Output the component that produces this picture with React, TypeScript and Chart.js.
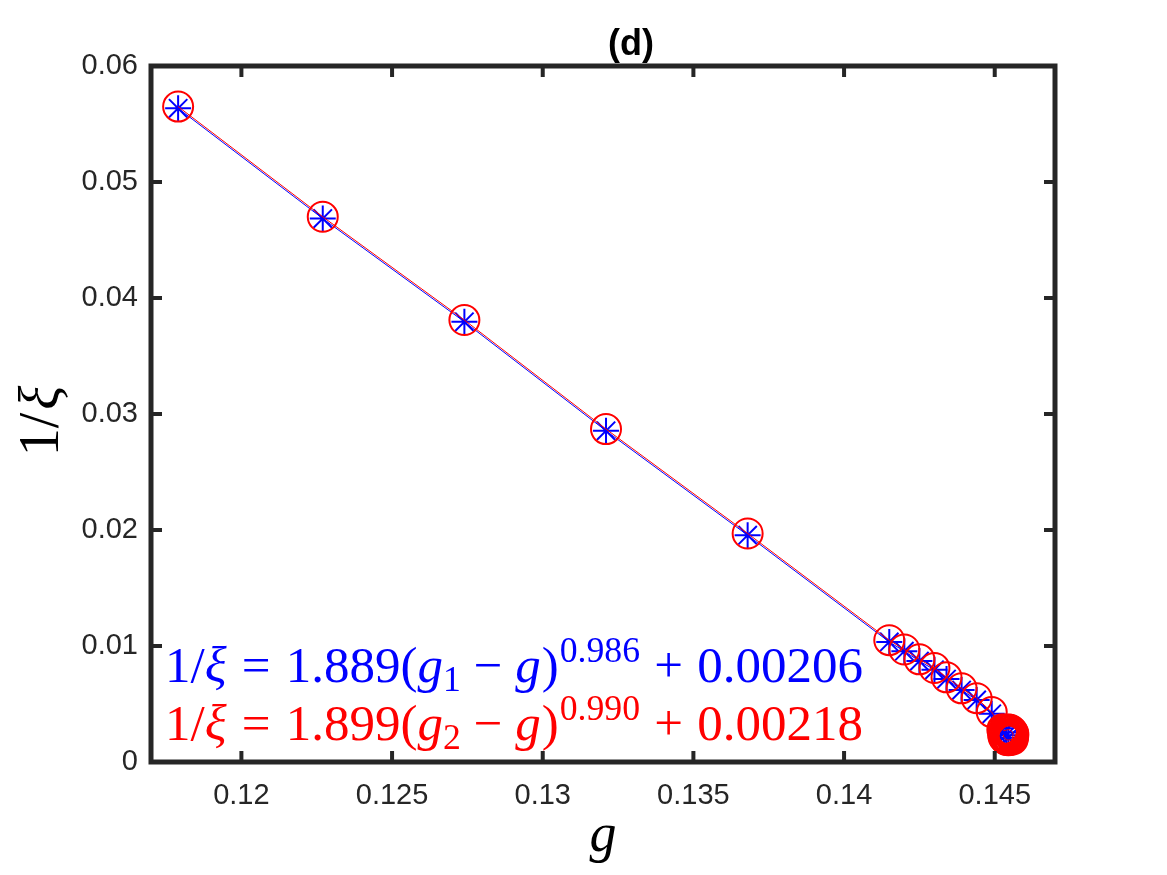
import React, { useEffect, useRef } from 'react';
import { Chart, registerables } from 'chart.js';

Chart.register(...registerables);

// ---- data ----
const gBlue = [
  0.1179, 0.1227, 0.1274, 0.1321, 0.1368, 0.1415, 0.1420, 0.1425, 0.1430,
  0.1434, 0.1439, 0.1444, 0.1449, 0.1452, 0.1453, 0.14538, 0.14545,
];
const invXiBlue = [
  0.05635, 0.04685, 0.03795, 0.02855, 0.01955, 0.01035, 0.00955, 0.0087,
  0.00795, 0.00715, 0.0062, 0.00535, 0.00415, 0.0029, 0.00255, 0.0023, 0.0021,
];
const gRed = [
  0.1179, 0.1227, 0.1274, 0.1321, 0.1368, 0.1415, 0.1420, 0.1425, 0.1430,
  0.1434, 0.1439, 0.1444, 0.1449,
  0.14526, 0.14531, 0.14539, 0.14545, 0.14551, 0.14556, 0.1456, 0.14561,
  0.1456, 0.14559, 0.14551, 0.14545, 0.14539, 0.14534, 0.1453, 0.14529,
];
const invXiRed = [
  0.0565, 0.047, 0.0381, 0.0287, 0.0197, 0.0105, 0.0097, 0.00885, 0.0081,
  0.0073, 0.00635, 0.0055, 0.0043,
  0.0028, 0.0027, 0.00276, 0.00279, 0.00276, 0.00266, 0.00251, 0.00234,
  0.00217, 0.00196, 0.00192, 0.00189, 0.00192, 0.00202, 0.00217, 0.00234,
];
const redMainCount = 13; // points before the dense cluster at the critical end

const xTickValues = [0.12, 0.125, 0.13, 0.135, 0.14, 0.145];
const xTickLabels = ['0.12', '0.125', '0.13', '0.135', '0.14', '0.145'];
const yTickValues = [0, 0.01, 0.02, 0.03, 0.04, 0.05, 0.06];
const yTickLabels = ['0', '0.01', '0.02', '0.03', '0.04', '0.05', '0.06'];

const titleText = '(d)';
const xTitle = 'g';

const AXIS_COLOR = '#262626';
const SERIF = '"Liberation Serif", "DejaVu Serif", serif';
const SANS = '"Liberation Sans", Arial, sans-serif';

type Seg = { t: string; it?: boolean; s?: number; dy?: number; gap?: number };

function drawRich(
  ctx: CanvasRenderingContext2D,
  segs: Seg[],
  x: number,
  y: number,
  size: number,
  color: string,
  measureOnly = false
): number {
  let cx = x;
  for (const sg of segs) {
    const fs = size * (sg.s ?? 1);
    ctx.font = `${sg.it ? 'italic ' : ''}${fs}px ${SERIF}`;
    if (!measureOnly) {
      ctx.fillStyle = color;
      ctx.fillText(sg.t, cx, y + (sg.dy ?? 0) * size);
    }
    cx += ctx.measureText(sg.t).width + (sg.gap ?? 0) * size;
  }
  return cx - x;
}

function eq(a: string, sub: string, p: string, c: string): Seg[] {
  return [
    { t: '1/' },
    { t: 'ξ', it: true, gap: 0.3 },
    { t: '=', gap: 0.3 },
    { t: a + '(' },
    { t: 'g', it: true },
    { t: sub, s: 0.7, dy: 0.17, gap: 0.25 },
    { t: '−', gap: 0.25 },
    { t: 'g', it: true, gap: 0.02 },
    { t: ')', gap: 0.02 },
    { t: p, s: 0.7, dy: -0.4, gap: 0.28 },
    { t: '+', gap: 0.28 },
    { t: c },
  ];
}
const eqBlue = eq('1.889', '1', '0.986', '0.00206');
const eqRed = eq('1.899', '2', '0.990', '0.00218');
const yTitleSegs: Seg[] = [{ t: '1/', gap: 0.05 }, { t: 'ξ', it: true }];

const decorPlugin = {
  id: 'decor',
  afterDatasetsDraw(chart: any) {
    const { ctx, chartArea: a, scales } = chart;
    ctx.save();
    ctx.strokeStyle = AXIS_COLOR;
    ctx.lineWidth = 4;
    ctx.beginPath();
    for (const v of xTickValues) {
      const px = scales.x.getPixelForValue(v);
      ctx.moveTo(px, a.bottom);
      ctx.lineTo(px, a.bottom - 11);
      ctx.moveTo(px, a.top);
      ctx.lineTo(px, a.top + 11);
    }
    for (const v of yTickValues) {
      const py = scales.y.getPixelForValue(v);
      ctx.moveTo(a.left, py);
      ctx.lineTo(a.left + 11, py);
      ctx.moveTo(a.right, py);
      ctx.lineTo(a.right - 11, py);
    }
    ctx.stroke();
    ctx.lineWidth = 5;
    ctx.strokeRect(a.left, a.top, a.right - a.left, a.bottom - a.top);

    // title
    ctx.fillStyle = '#000';
    ctx.font = `bold 36px ${SANS}`;
    ctx.textAlign = 'center';
    ctx.textBaseline = 'middle';
    ctx.fillText(titleText, 631, 45);

    // x title
    ctx.textAlign = 'left';
    ctx.textBaseline = 'alphabetic';
    ctx.font = `italic 54px ${SERIF}`;
    const gw = ctx.measureText(xTitle).width;
    ctx.fillStyle = '#000';
    ctx.fillText(xTitle, (a.left + a.right) / 2 - gw / 2, 851);

    // y title (rotated)
    ctx.save();
    ctx.translate(58, 421);
    ctx.rotate(-Math.PI / 2);
    const yw = drawRich(ctx, yTitleSegs, 0, 0, 56, '#000', true);
    drawRich(ctx, yTitleSegs, -yw / 2, 0, 56, '#000');
    ctx.restore();

    // fit equations
    drawRich(ctx, eqBlue, 165, 682, 51, '#0000ff');
    drawRich(ctx, eqRed, 165, 740, 51, '#ff0000');
    ctx.restore();
  },
};

export default function App() {
  const ref = useRef<HTMLCanvasElement | null>(null);
  useEffect(() => {
    if (!ref.current) return;
    const chart = new Chart(ref.current, {
      type: 'scatter',
      data: {
        datasets: [
          {
            label: 'red',
            data: gRed.map((g, i) => ({ x: g, y: invXiRed[i] })),
            showLine: true,
            borderColor: '#ff0000',
            borderWidth: 1,
            pointStyle: 'circle',
            pointRadius: 15,
            pointBorderWidth: gRed.map((_, i) => (i < redMainCount ? 2 : 2.5)),
            pointBorderColor: '#ff0000',
            pointBackgroundColor: 'rgba(0,0,0,0)',
          },
          {
            label: 'blue',
            data: gBlue.map((g, i) => ({ x: g, y: invXiBlue[i] })),
            showLine: true,
            borderColor: '#0000ff',
            borderWidth: 1,
            pointStyle: 'star',
            pointRadius: 13,
            pointBorderWidth: 2,
            pointBorderColor: '#0000ff',
            pointBackgroundColor: '#0000ff',
          },
        ],
      },
      options: {
        responsive: false,
        animation: false,
        devicePixelRatio: 1,
        layout: { padding: { top: 66, right: 112, left: 0, bottom: 0 } },
        plugins: {
          legend: { display: false },
          tooltip: { enabled: false },
          title: { display: false },
        },
        scales: {
          x: {
            type: 'linear',
            min: 0.117,
            max: 0.147,
            grid: { display: false, drawTicks: false },
            border: { display: false },
            afterFit: (s: any) => {
              s.height = 113;
            },
            afterBuildTicks: (s: any) => {
              s.ticks = xTickValues.map((v) => ({ value: v }));
            },
            ticks: {
              autoSkip: false,
              maxRotation: 0,
              padding: 17,
              color: AXIS_COLOR,
              font: { family: SANS, size: 29 },
              callback: (v: any) => {
                const i = xTickValues.findIndex((t) => Math.abs(t - v) < 1e-9);
                return i >= 0 ? xTickLabels[i] : '';
              },
            },
          },
          y: {
            type: 'linear',
            min: 0,
            max: 0.06,
            grid: { display: false, drawTicks: false },
            border: { display: false },
            afterFit: (s: any) => {
              s.width = 151;
            },
            afterBuildTicks: (s: any) => {
              s.ticks = yTickValues.map((v) => ({ value: v }));
            },
            ticks: {
              autoSkip: false,
              padding: 13,
              color: AXIS_COLOR,
              font: { family: SANS, size: 29 },
              callback: (v: any) => {
                const i = yTickValues.findIndex((t) => Math.abs(t - v) < 1e-9);
                return i >= 0 ? yTickLabels[i] : '';
              },
            },
          },
        },
      },
      plugins: [decorPlugin],
    });
    return () => chart.destroy();
  }, []);

  return (
    <div style={{ position: 'absolute', left: 0, top: 0, width: 1167, height: 875, background: '#fff' }}>
      <canvas ref={ref} width={1167} height={875} style={{ width: 1167, height: 875, display: 'block' }} />
    </div>
  );
}
